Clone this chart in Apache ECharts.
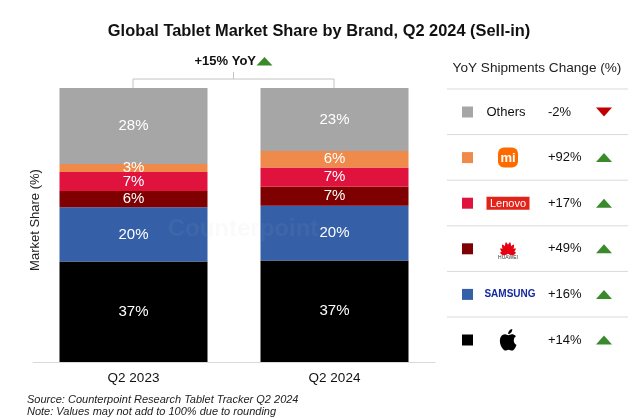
<!DOCTYPE html>
<html>
<head>
<meta charset="utf-8">
<script src="https://cdn.jsdelivr.net/npm/echarts@6/dist/echarts.min.js"></script>
<style>html,body{margin:0;padding:0;background:#fff}#c{width:638px;height:418px}</style>
</head>
<body>
<div id="c"></div>
<script>
// ---- data ----
const categories = ['Q2 2023', 'Q2 2024'];
const brands = ['Apple', 'Samsung', 'Huawei', 'Lenovo', 'Xiaomi', 'Others'];
const apple = [37, 37];
const samsung = [20, 20];
const huawei = [6, 7];
const lenovo = [7, 7];
const xiaomi = [3, 6];
const others = [28, 23];
const yoyByBrand = [14, 16, 49, 17, 92, -2]; // Apple, Samsung, Huawei, Lenovo, Xiaomi, Others
const totalYoY = 15;
const titleText = 'Global Tablet Market Share by Brand, Q2 2024 (Sell-in)';
const legendTitle = 'YoY Shipments Change (%)';
const yAxisTitle = 'Market Share (%)';
const sourceNote = 'Source: Counterpoint Research Tablet Tracker Q2 2024';
const roundingNote = 'Note: Values may not add to 100% due to rounding';

// ---- styles ----
const colors = ['#000000', '#3560a8', '#7f0000', '#e0133f', '#ef8a4a', '#a6a6a6'];
const FONT = "'Liberation Sans', Arial, sans-serif";
const seriesValues = [apple, samsung, huawei, lenovo, xiaomi, others];
const totals = categories.map((_, i) => seriesValues.reduce((s, arr) => s + arr[i], 0));

// custom logo shapes
const APPLE_PATH = 'M12.152 6.896c-.948 0-2.415-1.078-3.96-1.04-2.04.027-3.91 1.183-4.961 3.014-2.117 3.675-.546 9.103 1.519 12.09 1.013 1.454 2.208 3.09 3.792 3.039 1.52-.065 2.09-.987 3.935-.987 1.831 0 2.350.987 3.960.948 1.637-.026 2.676-1.48 3.676-2.948 1.156-1.688 1.636-3.325 1.662-3.415-.039-.013-3.182-1.221-3.220-4.857-.026-3.04 2.48-4.494 2.597-4.559-1.429-2.09-3.623-2.324-4.39-2.376-2-.156-3.675 1.09-4.61 1.09zM15.53 3.83c.843-1.012 1.4-2.427 1.245-3.83-1.207.052-2.662.805-3.532 1.818-.78.896-1.454 2.338-1.273 3.714 1.338.104 2.715-.688 3.559-1.701';
const PETAL_PATH = 'M0,0 C-2.6,-3.6 -2.6,-8.4 0,-12 C2.6,-8.4 2.6,-3.6 0,0 Z';
let haveShapes = false;
try {
  echarts.graphic.registerShape('appleLogo', echarts.graphic.extendPath(APPLE_PATH, {}));
  echarts.graphic.registerShape('petal', echarts.graphic.extendPath(PETAL_PATH, {}));
  haveShapes = true;
} catch (e) { haveShapes = false; }

const chart = echarts.init(document.getElementById('c'), null, {renderer: 'canvas'});

const series = brands.map((b, k) => ({
  name: b,
  type: 'bar',
  stack: 'share',
  barWidth: 148,
  itemStyle: {color: colors[k]},
  data: seriesValues[k].map((v, i) => v / totals[i] * 100),
  label: {
    show: true,
    position: 'inside',
    color: '#fff',
    fontFamily: FONT,
    fontSize: 15,
    formatter: p => seriesValues[k][p.dataIndex] + '%'
  },
  emphasis: {disabled: true}
}));

// legend table (right side)
const graphics = [];
const rowOrder = [5, 4, 3, 2, 1, 0];
const rowY0 = 112, rowStep = 45.6;
graphics.push({type: 'text', x: 537, y: 68, style: {text: legendTitle, font: '13.6px ' + FONT, fill: '#222', align: 'center', verticalAlign: 'middle'}});
rowOrder.forEach((k, r) => {
  const cy = rowY0 + r * rowStep;
  graphics.push({type: 'line', shape: {x1: 447, y1: cy - 23, x2: 628, y2: cy - 23}, style: {stroke: '#d9d9d9', lineWidth: 1}});
  graphics.push({type: 'rect', shape: {x: 462, y: cy - 5.5, width: 11, height: 11}, style: {fill: colors[k]}});
  const v = yoyByBrand[k];
  graphics.push({type: 'text', x: 548, y: cy, style: {text: (v > 0 ? '+' : '') + v + '%', font: '13px ' + FONT, fill: '#111', align: 'left', verticalAlign: 'middle'}});
  if (v >= 0) {
    graphics.push({type: 'polygon', shape: {points: [[596, cy + 4.5], [612, cy + 4.5], [604, cy - 4.5]]}, style: {fill: '#3a8a2c'}});
  } else {
    graphics.push({type: 'polygon', shape: {points: [[596, cy - 4.5], [612, cy - 4.5], [604, cy + 4.5]]}, style: {fill: '#c00000'}});
  }
  const lx = 508;
  if (brands[k] === 'Others') {
    graphics.push({type: 'text', x: lx - 2, y: cy, style: {text: 'Others', font: '13px ' + FONT, fill: '#111', align: 'center', verticalAlign: 'middle'}});
  } else if (brands[k] === 'Xiaomi') {
    graphics.push({type: 'rect', shape: {x: lx - 10, y: cy - 10, width: 20, height: 20, r: 6}, style: {fill: '#ff6a00'}});
    graphics.push({type: 'text', x: lx, y: cy + 0.5, style: {text: 'mi', font: 'bold 13px ' + FONT, fill: '#fff', align: 'center', verticalAlign: 'middle'}});
  } else if (brands[k] === 'Lenovo') {
    graphics.push({type: 'rect', shape: {x: lx - 21.5, y: cy - 6.5, width: 43, height: 13}, style: {fill: '#e2231a'}});
    graphics.push({type: 'text', x: lx, y: cy + 0.5, style: {text: 'Lenovo', font: '11px ' + FONT, fill: '#fff', align: 'center', verticalAlign: 'middle'}});
  } else if (brands[k] === 'Huawei') {
    const bx = lx, by = cy + 5;
    const petals = [[10, 1.0], [33, 0.92], [57, 0.8], [82, 0.68]];
    if (haveShapes) {
      petals.forEach(([a, s]) => {
        [1, -1].forEach(sg => {
          graphics.push({type: 'petal', x: bx, y: by, rotation: sg * a * Math.PI / 180, scaleX: 1, scaleY: s,
            style: {fill: '#e60012'}});
        });
      });
    }
    graphics.push({type: 'text', x: lx, y: cy + 9, style: {text: 'HUAWEI', font: '5px ' + FONT, fill: '#333', align: 'center', verticalAlign: 'middle'}});
  } else if (brands[k] === 'Samsung') {
    graphics.push({type: 'text', x: lx + 2, y: cy, style: {text: 'SAMSUNG', font: 'bold 10px ' + FONT, fill: '#1428a0', align: 'center', verticalAlign: 'middle'}});
  } else if (brands[k] === 'Apple') {
    if (haveShapes) {
      graphics.push({type: 'appleLogo', x: lx - 10, y: cy - 11, scaleX: 0.85, scaleY: 0.9, style: {fill: '#000'}});
    }
  }
});

// total YoY bracket
graphics.push({type: 'polyline', shape: {points: [[133, 88], [133, 79], [334, 79], [334, 88]]}, style: {stroke: '#c4c4c4', lineWidth: 1, fill: null}});
graphics.push({type: 'line', shape: {x1: 233.5, y1: 72, x2: 233.5, y2: 79}, style: {stroke: '#c4c4c4', lineWidth: 1}});
graphics.push({type: 'text', x: 256, y: 61, style: {text: '+' + totalYoY + '% YoY', font: 'bold 13px ' + FONT, fill: '#111', align: 'right', verticalAlign: 'middle'}});
graphics.push({type: 'polygon', shape: {points: [[256.5, 65.5], [272.5, 65.5], [264.5, 57]]}, style: {fill: '#3a8a2c'}});

// y axis title
graphics.push({type: 'text', x: 35, y: 220, rotation: Math.PI / 2, style: {text: yAxisTitle, font: '13px ' + FONT, fill: '#222', align: 'center', verticalAlign: 'middle'}});

// notes
graphics.push({type: 'text', x: 27, y: 400, style: {text: sourceNote, font: 'italic 11px ' + FONT, fill: '#222', align: 'left', verticalAlign: 'middle'}});
graphics.push({type: 'text', x: 27, y: 412, style: {text: roundingNote, font: 'italic 11px ' + FONT, fill: '#222', align: 'left', verticalAlign: 'middle'}});

// watermark
graphics.push({type: 'text', x: 243, y: 229, z: 100, style: {text: 'Counterpoint', font: 'bold 24px ' + FONT, fill: 'rgba(190,190,190,0.07)', align: 'center', verticalAlign: 'middle'}});

chart.setOption({
  animation: false,
  backgroundColor: '#fff',
  title: {
    text: titleText,
    left: 'center',
    top: 18,
    textStyle: {fontFamily: FONT, fontSize: 16.4, fontWeight: 'bold', color: '#111'}
  },
  grid: {left: 33, right: 203, top: 88, bottom: 56},
  xAxis: {
    type: 'category',
    data: categories,
    axisLine: {lineStyle: {color: '#d9d9d9', width: 1}},
    axisTick: {show: false},
    axisLabel: {color: '#111', fontFamily: FONT, fontSize: 13.5, margin: 9}
  },
  yAxis: {
    type: 'value',
    min: 0,
    max: 100,
    show: false
  },
  series: series,
  graphic: {elements: graphics}
});
</script>
</body>
</html>
